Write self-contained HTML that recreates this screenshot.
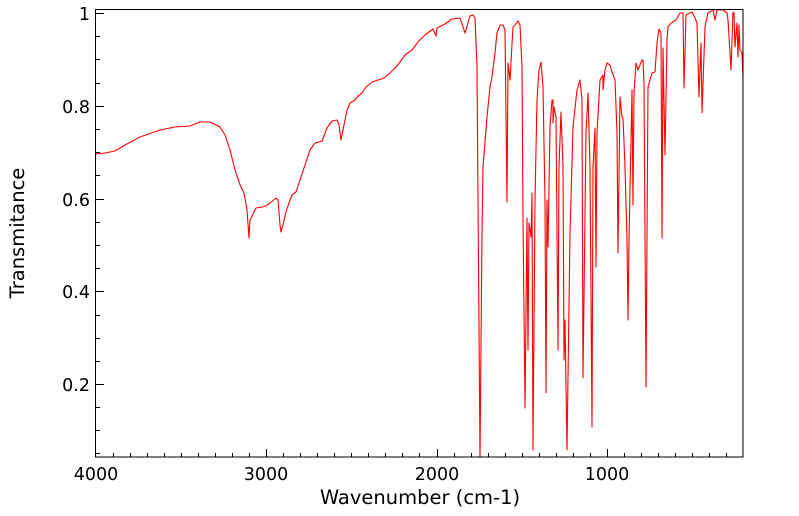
<!DOCTYPE html>
<html><head><style>body{margin:0;background:#fff}svg{display:block}</style></head><body>
<svg width="799" height="516" xmlns="http://www.w3.org/2000/svg" font-family="'DejaVu Sans','Liberation Sans',sans-serif">
<polyline fill="none" stroke="#ff0000" stroke-width="1.1" stroke-linejoin="round" points="96,154 105,153 115,151 125,145 140,137 160,130 175,127 190,126 200,122 210,122 220,127 225,135 230,150 235,170 240,185 244,193 247,210 249,238 250,220 252,216 256,208 262,207 266,206 270,203 276,198 278,200 280,225 281,232 283,225 286,212 290,200 292,195 296,192 300,180 305,165 310,150 315,143 322,141 327,128 332,121 337,120 339,125 341,140 344,125 347,110 350,103 355,100 358,96 362,93 366,87 372,82 378,80 384,78 390,73 396,67 400,62 405,55 412,50 418,42 425,35 433,29 436,36 437,28 445,24 452,19 460,18 465,33 470,16 473,15 475,18 477,67 478,200 480,457 482,233 483,167 487,117 490,87 492,77 495,53 497,33 500,25 503,25 505,30 507,202 508,63 510,80 511,62 513,27 515,25 518,21 520,25 522,67 523,217 525,408 527,218 528,350 529,223 531,237 532,193 533,450 535,200 537,100 539,70 541,62 543,87 545,200 546,393 547,200 548,247 550,127 552,100 553,100 553,123 554,107 556,117 558,350 559,167 561,112 563,167 564,360 565,320 567,450 570,233 573,127 577,90 580,80 582,100 583,378 586,133 588,93 590,167 592,427 593,167 595,128 596,267 597,133 600,80 603,75 603,90 605,70 607,63 610,65 612,72 615,80 617,133 618,253 620,97 622,117 623,118 625,167 627,240 628,320 629,240 631,140 632,90 633,205 634,93 636,63 638,70 642,60 643,60 644,83 646,387 648,87 652,73 655,72 657,43 659,29 661,33 662,238 663,48 665,155 667,40 668,27 671,23 673,22 676,20 680,13 683,13 684,88 686,15 692,12 695,18 697,23 699,97 701,43 702,113 705,27 708,13 713,10 715,20 717,10 723,10 727,13 728,20 731,70 733,12 734,13 735,47 737,23 738,57 739,25 740,50 742,53 743,77"/>
<rect x="95.5" y="9.5" width="647.5" height="447.5" fill="none" stroke="#000" stroke-width="1"/>
<g stroke="#000" stroke-width="1">
<path d="M96,13.5h8M96,106.5h8M96,199.5h8M96,291.5h8M96,384.5h8"/>
<path d="M96,36.5h4M96,59.5h4M96,83.5h4M96,129.5h4M96,152.5h4M96,175.5h4M96,222.5h4M96,245.5h4M96,268.5h4M96,315.5h4M96,338.5h4M96,361.5h4M96,407.5h4M96,430.5h4M96,453.5h4"/>
<path d="M266.5,457v-8M437.5,457v-8M607.5,457v-8"/>
<path d="M113.5,457v-4M130.5,457v-4M147.5,457v-4M164.5,457v-4M181.5,457v-4M198.5,457v-4M215.5,457v-4M232.5,457v-4M249.5,457v-4M283.5,457v-4M300.5,457v-4M317.5,457v-4M334.5,457v-4M351.5,457v-4M368.5,457v-4M385.5,457v-4M402.5,457v-4M419.5,457v-4M454.5,457v-4M471.5,457v-4M488.5,457v-4M505.5,457v-4M522.5,457v-4M539.5,457v-4M556.5,457v-4M573.5,457v-4M590.5,457v-4M624.5,457v-4M641.5,457v-4M658.5,457v-4M675.5,457v-4M692.5,457v-4M709.5,457v-4M726.5,457v-4"/>
</g>
<g font-size="17.5" fill="#000" text-anchor="end">
<text x="90" y="20">1</text><text x="90" y="113">0.8</text><text x="90" y="206">0.6</text><text x="90" y="298">0.4</text><text x="90" y="391">0.2</text>
</g>
<g font-size="17.5" fill="#000" text-anchor="middle">
<text x="96" y="480">4000</text><text x="266" y="480">3000</text><text x="437" y="480">2000</text><text x="607" y="480">1000</text>
</g>
<g font-size="19.5" fill="#000" text-anchor="middle">
<text x="420" y="504">Wavenumber (cm-1)</text>
<text transform="translate(24,233) rotate(-90)">Transmitance</text>
</g>
</svg>
</body></html>
